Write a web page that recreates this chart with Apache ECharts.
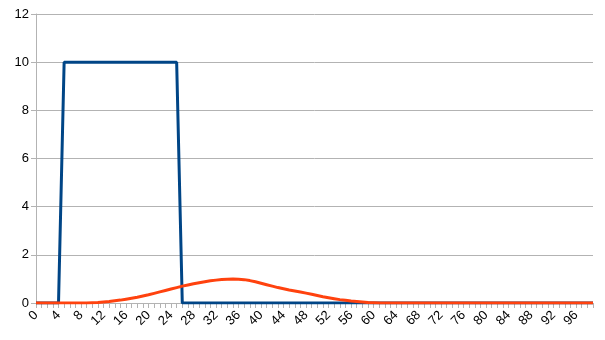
<!DOCTYPE html>
<html><head><meta charset="utf-8">
<script src="https://cdn.jsdelivr.net/npm/echarts@6/dist/echarts.min.js"></script>
<style>html,body{margin:0;padding:0;background:#fff}#c{width:605px;height:340px}</style>
</head><body><div id="c"></div>
<script>
var categories = [];
for (var i = 0; i < 100; i++) categories.push(String(i));

var blueValues = [0,0,0,0,0,10,10,10,10,10,10,10,10,10,10,10,10,10,10,10,10,10,10,10,10,10,
0,0,0,0,0,0,0,0,0,0,0,0,0,0,0,0,0,0,0,0,0,0,0,0,0,0,0,0,0,0,0,0,0,0,0,0,0,0,0,0,0,0,0,0,
0,0,0,0,0,0,0,0,0,0,0,0,0,0,0,0,0,0,0,0,0,0,0,0,0,0,0,0,0,0];

var orangeValues = [0,0,0,0,0,0,0,0,0,0,
0.01,0.02,0.04,0.06,0.09,0.12,0.16,0.2,0.24,0.29,
0.34,0.4,0.46,0.52,0.58,0.64,0.7,0.75,0.8,0.84,
0.88,0.92,0.95,0.98,0.99,1.0,0.99,0.97,0.93,0.88,
0.82,0.76,0.7,0.64,0.59,0.54,0.5,0.46,0.41,0.36,
0.31,0.26,0.22,0.18,0.14,0.11,0.08,0.06,0.04,0.02,
0.01,0,0,0,0,0,0,0,0,0,
0,0,0,0,0,0,0,0,0,0,
0,0,0,0,0,0,0,0,0,0,
0,0,0,0,0,0,0,0,0,0];

var yTicks = {min: 0, max: 12, interval: 2};

var chart = echarts.init(document.getElementById('c'), null, {renderer: 'canvas'});
chart.setOption({
  animation: false,
  backgroundColor: '#ffffff',
  grid: {left: 36, right: 12, top: 14, bottom: 37, containLabel: false},
  xAxis: {
    type: 'category',
    data: categories,
    boundaryGap: false,
    axisLine: {show: true, lineStyle: {color: '#b3b3b3', width: 1}},
    axisTick: {show: true, interval: 0, length: 5, lineStyle: {color: '#b3b3b3'}},
    axisLabel: {interval: 3, rotate: 45, color: '#000', fontSize: 13, fontFamily: 'Liberation Sans', margin: 10},
    splitLine: {show: false}
  },
  yAxis: {
    type: 'value',
    min: yTicks.min, max: yTicks.max, interval: yTicks.interval,
    axisLine: {show: true, lineStyle: {color: '#b3b3b3', width: 1}},
    axisTick: {show: true, length: 5, lineStyle: {color: '#b3b3b3'}},
    axisLabel: {color: '#000', fontSize: 13, fontFamily: 'Liberation Sans', margin: 7},
    splitLine: {show: true, lineStyle: {color: '#b3b3b3', width: 1}}
  },
  series: [
    {type: 'line', data: blueValues, symbol: 'none', lineStyle: {color: '#004586', width: 3}, itemStyle: {color: '#004586'}},
    {type: 'line', data: orangeValues, symbol: 'none', lineStyle: {color: '#ff420e', width: 3}, itemStyle: {color: '#ff420e'}}
  ]
});
</script></body></html>
